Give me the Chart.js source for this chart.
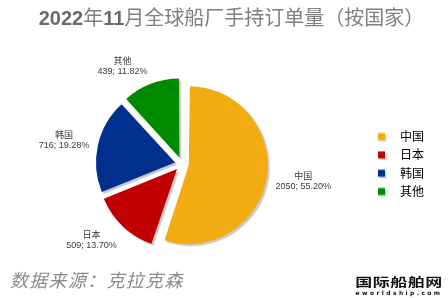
<!DOCTYPE html>
<html>
<head>
<meta charset="utf-8">
<script src="https://cdn.jsdelivr.net/npm/chart.js@4.4.0/dist/chart.umd.min.js"></script>
<style>
    html, body { margin: 0; padding: 0; background: #fff; }
    #wrap { position: relative; width: 448px; height: 298px; overflow: hidden; }
    #grafica { position: absolute; left: 0; top: 0; }
    #titulo {
        position: absolute; left: 15px; top: 8px; width: 433px; line-height: 20px;
        text-align: center; white-space: nowrap;
        font-family: "Liberation Sans", "Noto Sans CJK SC", sans-serif; font-size: 20px; color: #7f7f7f;
    }
    #titulo b { color: #6a6a6a; font-family: "Liberation Sans", sans-serif; }
    #fuente {
        position: absolute; left: 10px; top: 270px; line-height: 18px; white-space: nowrap;
        font-family: "Noto Sans CJK SC", sans-serif; font-size: 18px; font-style: italic;
        letter-spacing: 1.3px; color: #8a8a8a;
    }
    #logo {
        position: absolute; left: 354px; top: 273px; width: 90px; text-align: center;
        font-family: "Noto Sans CJK SC", sans-serif; font-weight: bold; color: #111;
    }
    #logo .cn { font-size: 17px; line-height: 17px; letter-spacing: 0.5px; transform: scaleY(0.72); }
    #logo .en { font-family: "DejaVu Sans", sans-serif; font-size: 6px; line-height: 6px; letter-spacing: 2.4px; }
</style>
</head>
<body>
<div id="wrap">
    <canvas id="grafica" width="448" height="298"></canvas>
    <div id="titulo"><b>2022</b>年<b>11</b>月全球船厂手持订单量（按国家）</div>
    <div id="fuente">数据来源：克拉克森</div>
    <div id="logo"><div class="cn">国际船舶网</div><div class="en">eworldship.com</div></div>
</div>
<script>
// datos
const paises = ['中国', '日本', '韩国', '其他'];
const valores = [2050, 509, 716, 439];
const colores = ['#F2AC12', '#C00000', '#002F8E', '#008A00'];

const total = valores.reduce((a, b) => a + b, 0);
const separacion = 28; // offset de Chart.js (se desplaza offset/4 px)

// cuadritos de la leyenda con su sombra
function cuadro(color) {
    const c = document.createElement('canvas');
    c.width = 24; c.height = 12;
    const x = c.getContext('2d');
    x.fillStyle = '#d2d2d2';
    x.fillRect(9.5, 4, 7, 7);
    x.fillStyle = color;
    x.fillRect(8, 2.5, 7, 7);
    return c;
}
const cuadros = colores.map(cuadro);

// sombra gris y mismo radio para todos los sectores separados
const sombra = {
    id: 'sombra',
    beforeDatasetsDraw(chart) {
        const ctx = chart.ctx;
        chart.getDatasetMeta(0).data.forEach(a => {
            a._ajuste = separacion / 4 * (1 - Math.sin(Math.min(Math.PI, a.circumference)));
            a.outerRadius -= a._ajuste;
        });
        ctx.save();
        ctx.shadowColor = 'rgba(0,0,0,0.22)';
        ctx.shadowOffsetX = 2;
        ctx.shadowOffsetY = 2;
        ctx.shadowBlur = 1;
    },
    afterDatasetsDraw(chart) {
        chart.ctx.restore();
        chart.getDatasetMeta(0).data.forEach(a => { a.outerRadius += a._ajuste; });
    }
};

// etiquetas "中国 / 2050; 55.20%" fuera de cada sector
const etiquetas = {
    id: 'etiquetas',
    afterDatasetsDraw(chart) {
        const ctx = chart.ctx;
        const meta = chart.getDatasetMeta(0);
        ctx.save();
        ctx.textAlign = 'center';
        ctx.textBaseline = 'middle';
        ctx.fillStyle = '#3a3a3a';
        ctx.font = '9px "Liberation Sans", "Noto Sans CJK SC", sans-serif';
        meta.data.forEach((arc, i) => {
            const mid = (arc.startAngle + arc.endAngle) / 2;
            const dx = Math.cos(mid), dy = Math.sin(mid);
            const l1 = paises[i];
            const l2 = valores[i] + '; ' + (valores[i] / total * 100).toFixed(2) + '%';
            const w = Math.max(ctx.measureText(l1).width, ctx.measureText(l2).width);
            const x = arc.x + dx * arc.outerRadius * 1.2 + Math.sign(dx) * w / 2;
            const y = arc.y + dy * arc.outerRadius * 1.2 + dy * 10;
            ctx.fillText(l1, x, y - 5);
            ctx.fillText(l2, x, y + 5);
        });
        ctx.restore();
    }
};

const ctx = document.getElementById('grafica').getContext('2d');
window.miGrafica = new Chart(ctx, {
    type: 'pie',
    data: {
        labels: paises,
        datasets: [{
            data: valores,
            backgroundColor: colores,
            borderWidth: 0,
            offset: separacion
        }]
    },
    options: {
        responsive: false,
        animation: false,
        events: [],
        radius: 79,
        layout: { padding: { left: 0, right: 14, top: 31, bottom: 1 } },
        plugins: {
            title: { display: false },
            tooltip: { enabled: false },
            legend: {
                display: true,
                position: 'right',
                labels: {
                    usePointStyle: true,
                    pointStyleWidth: 24,
                    padding: 6.3,
                    color: '#595959',
                    font: { size: 12, family: '"Noto Sans CJK SC", sans-serif' },
                    generateLabels: () => paises.map((p, i) => ({
                        text: p,
                        fillStyle: colores[i],
                        strokeStyle: colores[i],
                        lineWidth: 0,
                        pointStyle: cuadros[i],
                        hidden: false,
                        index: i
                    }))
                }
            }
        }
    },
    plugins: [sombra, etiquetas]
});
</script>
</body>
</html>
